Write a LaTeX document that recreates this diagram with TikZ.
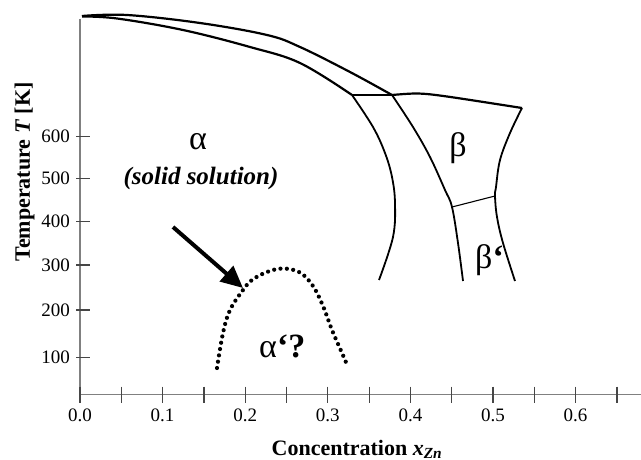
\documentclass[tikz,border=0pt]{standalone}
\usepackage{fontspec}
\setmainfont{Liberation Serif}
\usetikzlibrary{arrows.meta}
\definecolor{axisgray}{RGB}{128,128,128}
\definecolor{tickgray}{RGB}{70,70,70}
\tikzset{
  axisline/.style={draw=axisgray, line width=1.6pt},
  tickline/.style={draw=tickgray, line width=1.2pt},
  ticklab/.style={font=\fontsize{19}{19}\selectfont, inner sep=0pt},
  phaseline/.style={draw=black, line width=2.2pt, line join=round},
  bline/.style={draw=black, line width=1.8pt, line join=round},
  tieline/.style={draw=black, line width=1.1pt},
  dotline/.style={draw=black, line width=4.2pt, line cap=round, dash pattern=on 0pt off 6.4pt},
  greek/.style={font=\fontsize{34}{34}\selectfont, inner sep=0pt},
  biglabel/.style={font=\bfseries\fontsize{22}{22}\selectfont, inner sep=0pt}
}
\begin{document}
\begin{tikzpicture}[x=1pt,y=-1pt]
\useasboundingbox (0,0) rectangle (641,460);
% axes
\coordinate (ytop) at (80,19);
\coordinate (orig) at (80,394.5);
\coordinate (xend) at (641,394.5);
\draw[axisline] (ytop) -- (orig) -- (xend);
% x ticks
\foreach \i in {0,...,13} {
  \draw[tickline] ({80+\i*41.3},386.5) -- ({80+\i*41.3},402.5);
}
\foreach \v/\lab in {0/0.0,2/0.1,4/0.2,6/0.3,8/0.4,10/0.5,12/0.6} {
  \node[ticklab] (xl\v) at ({80+\v*41.3},415) {\lab};
}
% y ticks
\foreach \yy/\lab in {136.7/600,178.5/500,221.5/400,265/300,310/200,357.5/100} {
  \draw[tickline] (76,\yy) -- (90,\yy);
  \node[ticklab, anchor=east] (yl\lab) at (70,\yy) {\lab};
}
% axis labels
\node[biglabel, anchor=base] (xlab) at (357,455) {Concentration \textit{x}\textsubscript{\textit{Zn}}};
\node[biglabel, rotate=90, anchor=base] (ylab) at (30,172) {Temperature \textit{T} [K]};
% liquidus / solidus
\draw[phaseline] plot[smooth, tension=0.6] coordinates {(82,16) (127,15) (200,23) (267,35) (300,47) (350,72) (392,95)};
\draw[phaseline] plot[smooth, tension=0.6] coordinates {(82,16.5) (117,18.5) (183,30) (250,47) (300,63) (352,95)};
% alpha solvus
\draw[bline] plot[smooth, tension=0.6] coordinates {(352,95) (373,127) (385,153) (392,177) (395,203) (393,237) (379,280)};
% beta left boundary
\draw[bline] plot[smooth, tension=0.6] coordinates {(392,95) (413,127) (430,157) (445,190) (452,207) (458,243) (463,281)};
% beta top
\draw[phaseline] plot[smooth, tension=0.5] coordinates {(392,95) (418,93.5) (447,96.5) (522,108)};
% beta right boundary
\draw[bline] plot[smooth, tension=0.6] coordinates {(522,108) (510,133) (500,160) (496,187) (495,196) (497,217) (503,243) (515,281)};
% tie lines
\coordinate (t1a) at (352,95);
\coordinate (t1b) at (392,95);
\coordinate (t2a) at (452,207);
\coordinate (t2b) at (495,196);
\draw[tieline] (t1a) -- (t1b);
\draw[tieline] (t2a) -- (t2b);
% dotted alpha' dome
\draw[dotline] plot[smooth, tension=0.6] coordinates {(217,368) (223,333) (230,310) (243,290) (252,280) (267,272) (283,268.5) (300,272.5) (313,286) (323,306) (332,330) (342,353) (348,367)};
% arrow
\coordinate (arrS) at (173,227);
\coordinate (arrE) at (243,288);
\draw[line width=4pt, -{Triangle[length=22pt,width=20pt]}] (arrS) -- (arrE);
% phase labels
\node[greek] (alpha) at (198,142) {α};
\node[font=\bfseries\itshape\fontsize{25}{25}\selectfont, inner sep=0pt] (solid) at (201,178) {(solid solution)};
\node[greek] (beta) at (458,148) {β};
\node[greek, anchor=base west] (betap) at (475,269) {β\textbf{‘}};
\node[greek, anchor=base west] (alphap) at (259,357) {α\textbf{‘?}};
\end{tikzpicture}
\end{document}
